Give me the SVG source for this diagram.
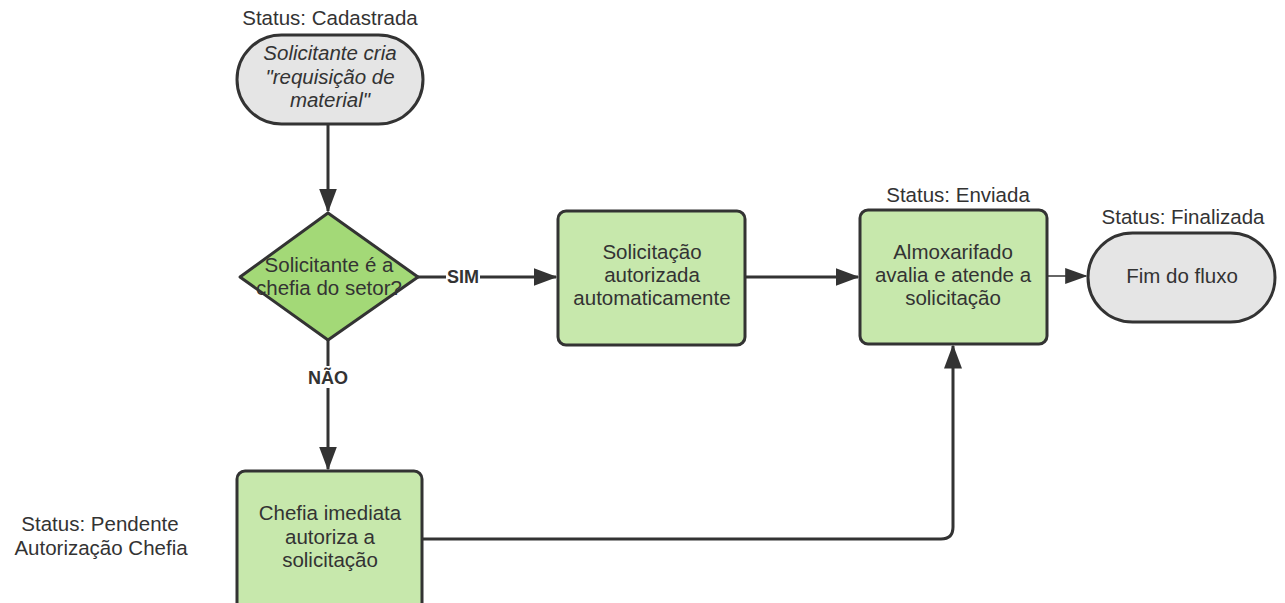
<svg xmlns="http://www.w3.org/2000/svg" width="1285" height="603" viewBox="0 0 1285 603">
<defs>
<style>
.t{font-family:"Liberation Sans",Arial,sans-serif;font-size:20.5px;fill:#333;text-anchor:middle}
.b{font-family:"Liberation Sans",Arial,sans-serif;font-size:18px;font-weight:bold;fill:#333;text-anchor:middle}
.term{fill:#e5e5e5;stroke:#333;stroke-width:3}
.proc{fill:#c7e8ac;stroke:#333;stroke-width:3}
.dec{fill:#a3d977;stroke:#333;stroke-width:3}
.c{fill:none;stroke:#333;stroke-width:3}
</style>
<marker id="ah" markerWidth="8" markerHeight="6" refX="7.5" refY="3" orient="auto" markerUnits="strokeWidth">
<path d="M0,0 L8,3 L0,6 Z" fill="#333"/>
</marker>
<marker id="ah2" markerWidth="14" markerHeight="10" refX="13" refY="5" orient="auto" markerUnits="strokeWidth">
<path d="M0,0 L14,5 L0,10 Z" fill="#333"/>
</marker>
</defs>
<rect width="1285" height="603" fill="#fff"/>
<g id="connectors">
<path class="c" d="M328,124 L328,211" marker-end="url(#ah)"/>
<path class="c" d="M418,277 L556,277" marker-end="url(#ah)"/>
<path class="c" d="M745,277 L858,277" marker-end="url(#ah)"/>
<path fill="none" stroke="#333" stroke-width="1.6" d="M1047,276 L1086,276" marker-end="url(#ah2)"/>
<path class="c" d="M328,340 L328,469" marker-end="url(#ah)"/>
<path class="c" d="M422,539 L941,539 Q953,539 953,527 L953,346" marker-end="url(#ah)"/>
<rect x="446" y="266" width="34" height="20" fill="#fff"/>
<text class="b" x="463" y="283">SIM</text>
<rect x="307" y="366" width="42" height="22" fill="#fff"/>
<text class="b" x="328" y="384">NÃO</text>
</g>
<g id="start">
<text class="t" x="330" y="25">Status: Cadastrada</text>
<rect class="term" x="237" y="35" width="186" height="89" rx="44.5"/>
<text class="t" x="330" y="60" font-style="italic">Solicitante cria</text>
<text class="t" x="330" y="84" font-style="italic">"requisição de</text>
<text class="t" x="330" y="107" font-style="italic">material"</text>
</g>
<g id="decision">
<path class="dec" d="M328,213 L418,277 L328,340 L240,277 Z" stroke-linejoin="round"/>
<text class="t" x="329" y="272">Solicitante é a</text>
<text class="t" x="329" y="295">chefia do setor?</text>
</g>
<g id="auto">
<rect class="proc" x="558" y="211" width="187" height="134" rx="8"/>
<text class="t" x="652" y="259">Solicitação</text>
<text class="t" x="652" y="282">autorizada</text>
<text class="t" x="652" y="305">automaticamente</text>
</g>
<g id="almox">
<text class="t" x="958" y="202">Status: Enviada</text>
<rect class="proc" x="860" y="210" width="187" height="134" rx="8"/>
<text class="t" x="953" y="259">Almoxarifado</text>
<text class="t" x="953" y="282">avalia e atende a</text>
<text class="t" x="953" y="305">solicitação</text>
</g>
<g id="end">
<text class="t" x="1183" y="224">Status: Finalizada</text>
<rect class="term" x="1088" y="233" width="187" height="89" rx="44.5"/>
<text class="t" x="1182" y="283">Fim do fluxo</text>
</g>
<g id="chefia">
<rect class="proc" x="237" y="471" width="185" height="140" rx="8"/>
<text class="t" x="330" y="520">Chefia imediata</text>
<text class="t" x="330" y="544">autoriza a</text>
<text class="t" x="330" y="567">solicitação</text>
<text class="t" x="100" y="531">Status: Pendente</text>
<text class="t" x="101" y="555">Autorização Chefia</text>
</g>
</svg>
